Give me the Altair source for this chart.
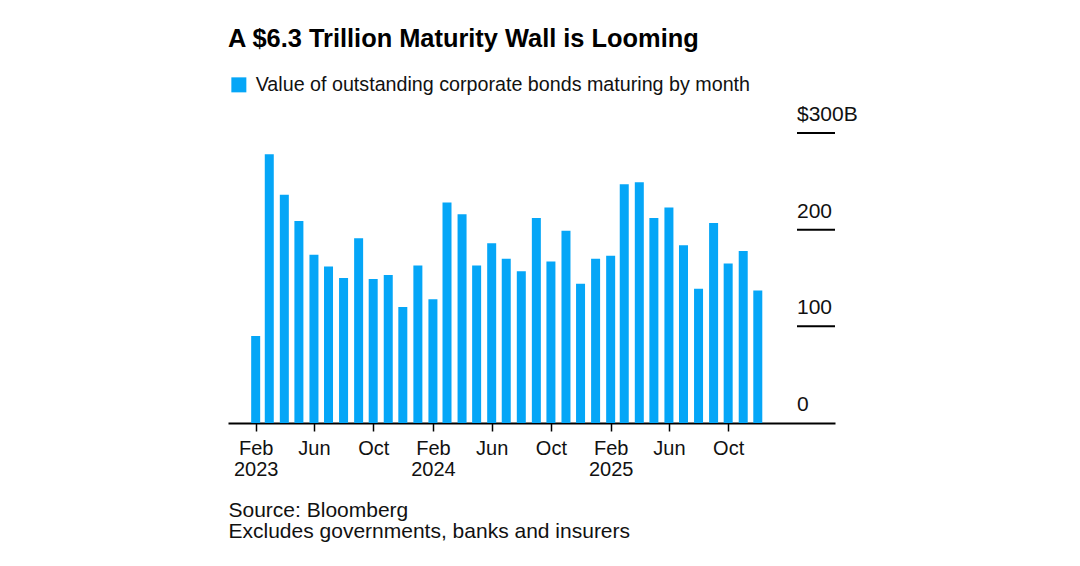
import altair as alt
import pandas as pd

# ---- data -------------------------------------------------------------
months = [
    "2023-02-01", "2023-03-01", "2023-04-01", "2023-05-01", "2023-06-01", "2023-07-01",
    "2023-08-01", "2023-09-01", "2023-10-01", "2023-11-01", "2023-12-01",
    "2024-01-01", "2024-02-01", "2024-03-01", "2024-04-01", "2024-05-01", "2024-06-01",
    "2024-07-01", "2024-08-01", "2024-09-01", "2024-10-01", "2024-11-01", "2024-12-01",
    "2025-01-01", "2025-02-01", "2025-03-01", "2025-04-01", "2025-05-01", "2025-06-01",
    "2025-07-01", "2025-08-01", "2025-09-01", "2025-10-01", "2025-11-01", "2025-12-01",
]
values = [
    90, 278, 236, 209, 174, 162, 150, 191, 149, 153, 120,
    163, 128, 228, 216, 163, 186, 170, 157, 212, 167, 199, 144,
    170, 173, 247, 249, 212, 223, 184, 139, 207, 165, 178, 137,
]
series_name = "Value of outstanding corporate bonds maturing by month"
y_ticks = [0, 100, 200, 300]
y_tick_labels = ["0", "100", "200", "$300B"]
x_tick_months = [
    "2023-02-01", "2023-06-01", "2023-10-01",
    "2024-02-01", "2024-06-01", "2024-10-01",
    "2025-02-01", "2025-06-01", "2025-10-01",
]
title_text = "A $6.3 Trillion Maturity Wall is Looming"
footer_lines = ["Source: Bloomberg", "Excludes governments, banks and insurers"]

# ---- style ------------------------------------------------------------
W, H = 607, 290
FONT = "Liberation Sans"
BLUE = "#05a6f7"
INK = "#111111"


def to_dt(s):
    y, m, d = (int(p) for p in s.split("-"))
    return alt.DateTime(year=y, month=m, date=d, utc=True)


df = pd.DataFrame({"month": months, "value": values, "series": series_name})
ticks_df = pd.DataFrame({"v": y_ticks, "label": y_tick_labels})

x_scale = alt.Scale(
    type="utc",
    padding=0,
    domain=[alt.DateTime(year=2022, month=12, date=6, utc=True),
            alt.DateTime(year=2026, month=5, date=9, utc=True)],
)
y_scale = alt.Scale(domain=[0, 300])

x_axis = alt.Axis(
    values=[to_dt(s) for s in x_tick_months],
    labelExpr="utcmonth(datum.value) == 1 ? [utcFormat(datum.value, '%b'), utcFormat(datum.value, '%Y')] : utcFormat(datum.value, '%b')",
    labelFont=FONT, labelFontSize=20, labelColor=INK, labelPadding=7,
    labelLineHeight=21, labelAlign="center", labelOverlap=False, labelFlush=False,
    domainColor="black", domainWidth=2,
    tickColor="black", tickWidth=1.5, tickSize=8,
    grid=False,
    title=footer_lines, titleAnchor="start", titleAlign="left", titleBaseline="alphabetic",
    titleX=0, titleY=93, titleFont=FONT, titleFontSize=21, titleFontWeight="normal",
    titleColor=INK, titleLineHeight=21.6,
)

bars = alt.Chart(df).mark_bar(width=9).encode(
    x=alt.X("month:T", scale=x_scale, axis=x_axis),
    y=alt.Y("value:Q", scale=y_scale, axis=None),
    color=alt.Color(
        "series:N",
        scale=alt.Scale(range=[BLUE]),
        legend=alt.Legend(
            orient="none", legendX=1, legendY=-58, title=None, padding=0,
            symbolType="square", symbolSize=225, symbolStrokeWidth=0,
            labelFont=FONT, labelFontSize=19.7, labelColor=INK, labelOffset=7,
            labelLimit=0,
        ),
    ),
)

rules = alt.Chart(ticks_df[ticks_df["v"] > 0]).mark_rule(color="black", strokeWidth=2).encode(
    y=alt.Y("v:Q", scale=y_scale, axis=None),
    x=alt.value(W - 38),
    x2=alt.value(W),
)

ylabels = alt.Chart(ticks_df).mark_text(
    align="left", baseline="alphabetic", dy=-12, font=FONT, fontSize=21, color=INK
).encode(
    y=alt.Y("v:Q", scale=y_scale, axis=None),
    x=alt.value(W - 38),
    text="label:N",
)

chart = alt.layer(bars, rules, ylabels).properties(
    width=W, height=H,
    title=alt.Title(title_text, anchor="start", font=FONT, fontSize=25.4,
                    fontWeight="bold", color="#000000", frame="group", offset=23),
    padding={"left": 228, "top": 133, "right": 245, "bottom": 143},
    autosize=alt.AutoSizeParams(type="none"),
).configure(background="white").configure_view(stroke=None, strokeWidth=0)

chart.save("out.html", embed_options={"renderer": "svg", "actions": False})
